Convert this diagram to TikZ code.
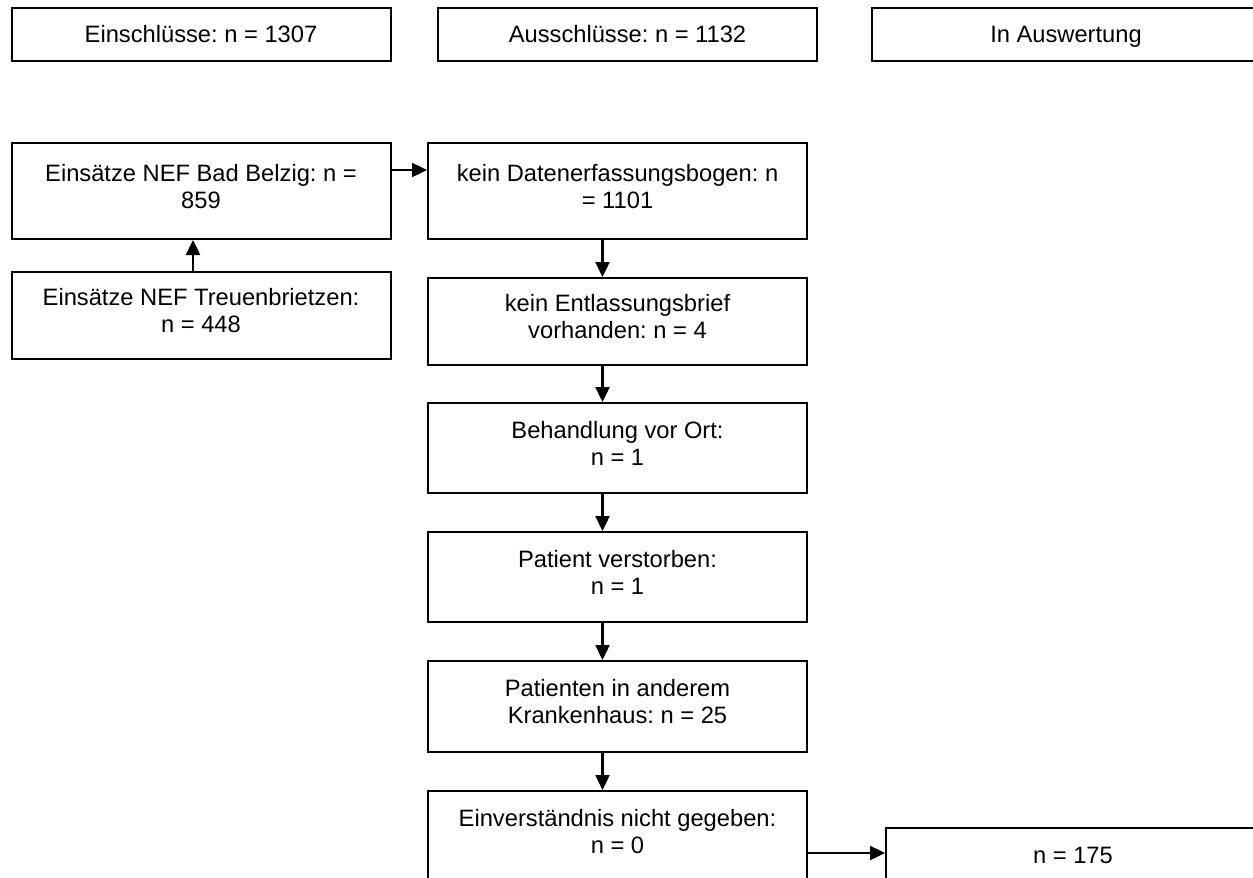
\documentclass[tikz,border=0pt]{standalone}
\usepackage{fontspec}
\setmainfont{Liberation Sans}
\usetikzlibrary{arrows.meta}
\frenchspacing

\begin{document}
\begin{tikzpicture}
        [
            x=1pt,
            y=-1pt,
            >={Triangle[length=15pt, width=14pt]},
            box/.style={rectangle, draw, line width=2pt, align=center, inner sep=0pt, minimum width=379pt, font=\fontsize{23.7}{27}\selectfont},
            twoline/.style={text depth=10pt},
            arrow/.style={->, line width=2.4pt}
        ]
        \useasboundingbox (0, 0) rectangle (1253, 878);
        \clip (0, 0) rectangle (1253, 878);

        % top row
        \node[box, minimum height=53pt] (ein) at (201, 34.5) {Einschlüsse: n = 1307};
        \node[box, minimum height=53pt] (aus) at (627.5, 34.5) {Ausschlüsse: n = 1132};
        \node[box, minimum height=53pt, minimum width=388pt, text depth=0pt] (ausw) at (1066, 34.5) {In Auswertung};

        % left column
        \node[box, twoline, minimum height=96pt] (bb) at (201, 191) {Einsätze NEF Bad Belzig: n =\\859};
        \node[box, twoline, minimum height=87pt] (tb) at (201, 315.5) {Einsätze NEF Treuenbrietzen:\\n = 448};

        % middle column
        \node[box, twoline, minimum height=96pt] (daten) at (617.5, 191) {kein Datenerfassungsbogen: n\\= 1101};
        \node[box, twoline, minimum height=87pt] (entl) at (617.5, 321.5) {kein Entlassungsbrief\\vorhanden: n = 4};
        \node[box, twoline, minimum height=90pt] (beh) at (617.5, 448) {Behandlung vor Ort:\\n = 1};
        \node[box, twoline, minimum height=90pt] (pv) at (617.5, 577) {Patient verstorben:\\n = 1};
        \node[box, twoline, minimum height=91pt] (pat) at (617.5, 706.5) {Patienten in anderem\\Krankenhaus: n = 25};
        \node[box, twoline, minimum height=90pt] (einv) at (617.5, 836) {Einverständnis nicht gegeben:\\n = 0};

        % result
        \node[box, minimum height=54pt, minimum width=374pt] (res) at (1073, 855) {n = 175};

        \draw[arrow] ([xshift=-8pt]tb.north) -- ([xshift=-8pt]bb.south);
        \draw[arrow] ([yshift=21pt]bb.east) -- ([yshift=21pt]bb.east -| daten.west);
        \draw[arrow] ([xshift=-15pt]daten.south) -- ([xshift=-15pt]entl.north);
        \draw[arrow] ([xshift=-15pt]entl.south) -- ([xshift=-15pt]beh.north);
        \draw[arrow] ([xshift=-15pt]beh.south) -- ([xshift=-15pt]pv.north);
        \draw[arrow] ([xshift=-15pt]pv.south) -- ([xshift=-15pt]pat.north);
        \draw[arrow] ([xshift=-15pt]pat.south) -- ([xshift=-15pt]einv.north);
        \draw[arrow] ([yshift=-17pt]einv.east) -- ([yshift=-17pt]einv.east -| res.west);

    \end{tikzpicture}
\end{document}
